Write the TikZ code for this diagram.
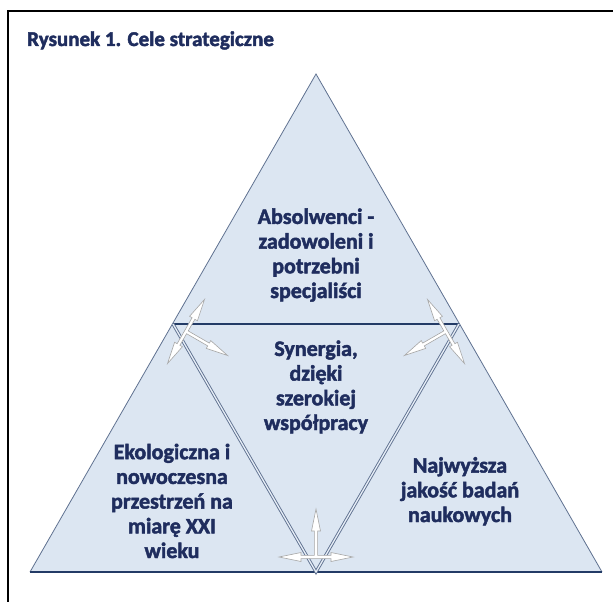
\documentclass[tikz,border=0pt]{standalone}
\usepackage{fontspec}
\setmainfont{Carlito}
\definecolor{fillblue}{HTML}{DCE6F2}
\definecolor{edgegray}{HTML}{5F7190}
\definecolor{navyline}{HTML}{233B66}
\definecolor{navytext}{HTML}{1F2D5E}
\definecolor{arrowgray}{HTML}{A6A6A6}
\newcommand{\heavytext}[1]{\special{pdf:literal direct 2 Tr 0.45 w}#1\special{pdf:literal direct 0 Tr}}
\begin{document}
\begin{tikzpicture}[x=1pt,y=-1pt,
  label/.style={align=center,text=navytext,font=\bfseries\fontsize{22}{24.7}\selectfont,anchor=base,inner sep=0pt},
  titletext/.style={text=navytext,font=\bfseries\fontsize{21}{24}\selectfont,anchor=base west,inner sep=0pt},
  outeredge/.style={draw=edgegray,line width=0.8pt},
  inneredge/.style={draw=edgegray,double=fillblue!70!white,double distance=1.3pt,line width=0.9pt},
  midline/.style={draw=navyline,line width=1.4pt},
  threearrow/.style={fill=white,draw=arrowgray,line width=0.6pt,line join=miter}
]
\useasboundingbox (0,0) rectangle (613,602);
% frame (clipped at right and bottom)
\draw[line width=2pt,black] (8,640) -- (8,11) -- (640,11);
\node[titletext] (title) at (27,46) {\heavytext{Rysunek 1. Cele strategiczne}};

% vertices
\coordinate (apex) at (316,74);
\coordinate (bl) at (30,572);
\coordinate (br) at (602,572);
\coordinate (ml) at (173,324);
\coordinate (mr) at (459,324);
\coordinate (mb) at (316,572);

\fill[fillblue] (apex) -- (bl) -- (br) -- cycle;
\draw[outeredge] (bl) -- (apex) -- (br);
\draw[midline] (bl) -- (br);
\draw[midline] (ml) -- (mr);
\draw[inneredge] (ml) -- (mb) -- (mr);

% three-way arrows
\newcommand{\triarrow}{(-37,0) -- (-15,-4.5) -- (-15,-1.6) -- (-1.6,-1.6) -- (-1.6,-26) -- (-4.5,-26) -- (0,-48) -- (4.5,-26) -- (1.6,-26) -- (1.6,-1.6) -- (15,-1.6) -- (15,-4.5) -- (37,0) -- (15,4.5) -- (15,1.6) -- (-15,1.6) -- (-15,4.5) -- cycle}
\begin{scope}[shift={(316,557)}]
  \draw[threearrow] \triarrow;
\end{scope}
\begin{scope}[shift={(186,331.5)},rotate=-120]
  \draw[threearrow] \triarrow;
\end{scope}
\begin{scope}[shift={(446,331.5)},rotate=120]
  \draw[threearrow] \triarrow;
\end{scope}

% texts (anchor base = last line baseline)
\node[label] (top) at (316,298) {\heavytext{Absolwenci -\\zadowoleni i\\potrzebni\\specjaliści}};
\node[label] (center) at (316,430) {\heavytext{Synergia,\\dzięki\\szerokiej\\współpracy}};
\node[label] (left) at (172,558) {\heavytext{Ekologiczna i\\nowoczesna\\przestrzeń na\\miarę XXI\\wieku}};
\node[label] (right) at (460,522) {\heavytext{Najwyższa\\jakość badań\\naukowych}};
\end{tikzpicture}
\end{document}
